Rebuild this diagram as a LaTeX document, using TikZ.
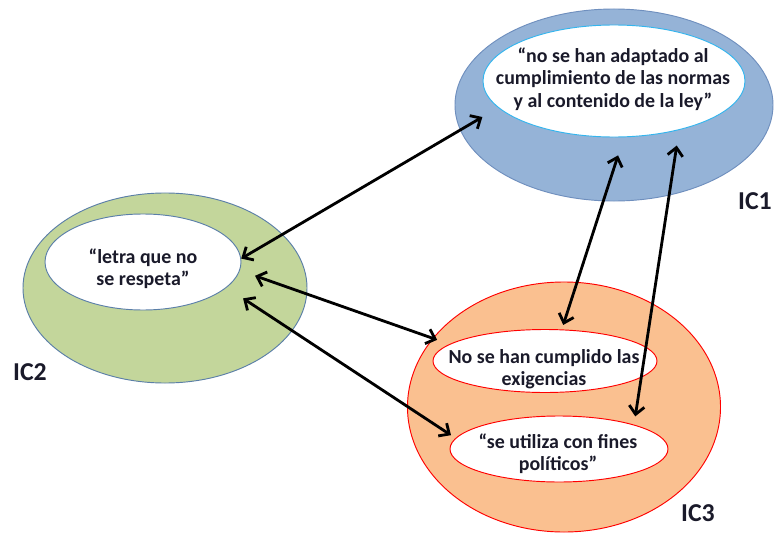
\documentclass[tikz,border=0pt]{standalone}
\usepackage{fontspec}
\setmainfont{Carlito}
\usetikzlibrary{shapes.geometric,arrows.meta}

\definecolor{icblue}{HTML}{95B3D7}
\definecolor{icblueline}{HTML}{6F8FBE}
\definecolor{icgreen}{HTML}{C3D69B}
\definecolor{icgreenline}{HTML}{5B7FA8}
\definecolor{icorange}{HTML}{FAC090}
\definecolor{cyanline}{HTML}{33B5EE}
\definecolor{textdark}{HTML}{1A1A2A}

\begin{document}
\begin{tikzpicture}[x=0.03cm,y=-0.03cm,
    ring/.style={ellipse, inner sep=0pt, draw=#1, line width=0.8pt},
    txt/.style={align=center, text=textdark, font=\bfseries\fontsize{17}{19}\selectfont},
    tag/.style={text=textdark, font=\bfseries\fontsize{22}{24}\selectfont},
    link/.style={line width=2.4pt, {Straight Barb[length=7pt,width=13pt]}-{Straight Barb[length=7pt,width=13pt]}}]
  \useasboundingbox (0,0) rectangle (774,533);

  % outer rings
  \node [ring=icblueline, fill=icblue, minimum width=9.54cm, minimum height=5.76cm](ic1) at (614,105) {};
  \node [ring=icgreenline, fill=icgreen, minimum width=8.52cm, minimum height=5.7cm](ic2) at (165,288) {};
  \node [ring=red, fill=icorange, minimum width=9.39cm, minimum height=7.5cm](ic3) at (564,407) {};

  % inner ellipses
  \node [ring=cyanline, fill=white, minimum width=7.86cm, minimum height=3.36cm](adapt) at (614,81) {};
  \node [ring=icgreenline, fill=white, minimum width=5.88cm, minimum height=2.88cm](letra) at (143,262) {};
  \node [ring=red, fill=white, minimum width=6.72cm, minimum height=1.89cm](cumplido) at (545,361) {};
  \node [ring=red, fill=white, minimum width=6.54cm, minimum height=1.98cm](politicos) at (559,449) {};

  \node [txt](tadapt) at (613,79) {“no se han adaptado al\\cumplimiento de las normas\\y al contenido de la ley”};
  \node [txt](tletra) at (143,269) {“letra que no\\se respeta”};
  \node [txt](tcumplido) at (544,369) {No se han cumplido las\\exigencias};
  \node [txt](tpoliticos) at (558,454) {“se utiliza con fines\\políticos”};

  \node [tag](l1) at (755,201) {IC1};
  \node [tag](l2) at (30,372) {IC2};
  \node [tag](l3) at (698,513) {IC3};

  % relations
  \draw [link, shorten >=0.55cm] (letra.2) -- (adapt.193);
  \draw [link, shorten <=0.48cm, shorten >=0.39cm] (letra.355) -- (cumplido.170);
  \draw [link, shorten <=0.59cm, shorten >=0.16cm] (letra.343) -- (politicos.174);
  \draw [link, shorten <=0.57cm, shorten >=0.14cm] (adapt.280) -- (cumplido.62);
  \draw [link, shorten <=0.47cm, shorten >=0.25cm] (adapt.323) -- (politicos.18);
\end{tikzpicture}
\end{document}
